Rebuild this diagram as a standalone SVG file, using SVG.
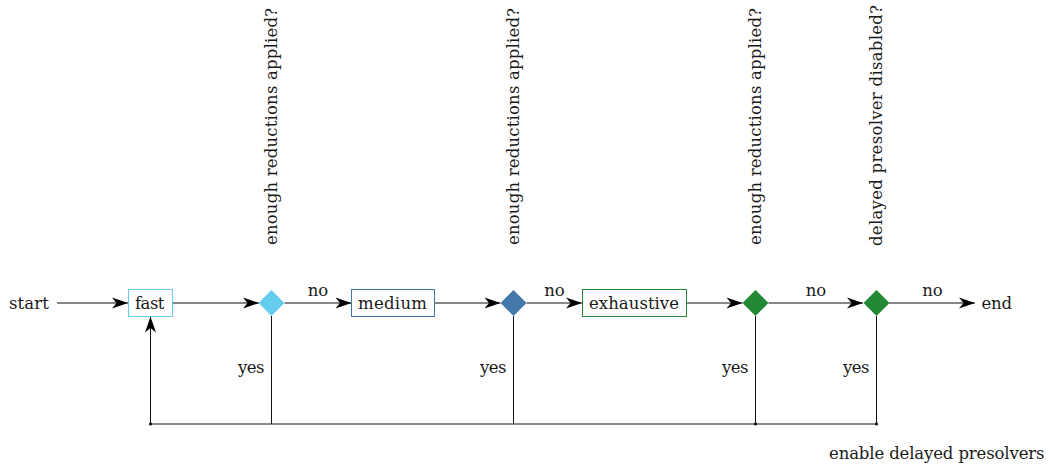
<svg xmlns="http://www.w3.org/2000/svg" width="1052" height="468" viewBox="0 0 1052 468">
<style>
text { font-family: "DejaVu Serif", "Liberation Serif", serif; font-size: 16.5px; fill: #1a1a1a; }
.box { fill: #ffffff; stroke-width: 1; }
.edge { fill: none; stroke: #111111; stroke-width: 1; }
.arr { marker-end: url(#stealth); }
.dot { fill: #000000; }
</style>
<defs>
<marker id="stealth" markerUnits="userSpaceOnUse" markerWidth="18" markerHeight="13" viewBox="-17 -6.5 18 13" refX="0" refY="0" orient="auto">
<path d="M0,0 L-16,-5.5 L-11.5,0 L-16,5.5 Z" fill="#000000"/>
</marker>
</defs>
<rect width="1052" height="468" fill="#ffffff"/>
<g id="connectors">
<path class="edge arr" d="M57,303 L128,303"/>
<path class="edge arr" d="M173,303 L259,303"/>
<path class="edge arr" d="M284.5,303 L351.5,303"/>
<path class="edge arr" d="M434.5,303 L500.5,303"/>
<path class="edge arr" d="M526.5,303 L582,303"/>
<path class="edge arr" d="M687,303 L742.5,303"/>
<path class="edge arr" d="M768.5,303 L863,303"/>
<path class="edge arr" d="M889,303 L975,303"/>
<path class="edge" d="M271.5,316 L271.5,424"/>
<path class="edge" d="M513.5,316 L513.5,424"/>
<path class="edge" d="M755.5,316 L755.5,424"/>
<path class="edge" d="M876.5,316 L876.5,424"/>
<path class="edge" d="M150.5,424 L876.5,424"/>
<path class="edge arr" d="M150.5,424 L150.5,316.5"/>
<rect class="dot" x="149.2" y="422.7" width="2.6" height="2.6"/>
<rect class="dot" x="754.2" y="422.7" width="2.6" height="2.6"/>
<rect class="dot" x="875.2" y="422.7" width="2.6" height="2.6"/>
<text x="318" y="296" text-anchor="middle" textLength="20.5">no</text>
<text x="554.5" y="296" text-anchor="middle" textLength="20.5">no</text>
<text x="816" y="296" text-anchor="middle" textLength="20.5">no</text>
<text x="932.5" y="296" text-anchor="middle" textLength="20.5">no</text>
<text x="264.5" y="373" text-anchor="end" textLength="26.5">yes</text>
<text x="506.5" y="373" text-anchor="end" textLength="26.5">yes</text>
<text x="748.5" y="373" text-anchor="end" textLength="26.5">yes</text>
<text x="869.5" y="373" text-anchor="end" textLength="26.5">yes</text>
</g>
<g id="start"><text x="9" y="309" textLength="40">start</text></g>
<g id="fast">
<rect class="box" x="128.5" y="289.5" width="44" height="27" stroke="#66CCEE"/>
<text x="135" y="309" textLength="29.5">fast</text>
</g>
<g id="check1">
<path d="M271.5,290 L284.5,303 L271.5,316 L258.5,303 Z" fill="#66CCEE"/>
<text transform="translate(277,245) rotate(-90)" textLength="237">enough reductions applied?</text>
</g>
<g id="medium">
<rect class="box" x="351.5" y="289.5" width="83" height="27" stroke="#4477AA"/>
<text x="358" y="309" textLength="69">medium</text>
</g>
<g id="check2">
<path d="M513.5,290 L526.5,303 L513.5,316 L500.5,303 Z" fill="#4477AA"/>
<text transform="translate(519,245) rotate(-90)" textLength="237">enough reductions applied?</text>
</g>
<g id="exhaustive">
<rect class="box" x="582.5" y="289.5" width="104" height="27" stroke="#228833"/>
<text x="589" y="309" textLength="90">exhaustive</text>
</g>
<g id="check3">
<path d="M755.5,290 L768.5,303 L755.5,316 L742.5,303 Z" fill="#228833"/>
<text transform="translate(761,245) rotate(-90)" textLength="237">enough reductions applied?</text>
</g>
<g id="check4">
<path d="M876.5,290 L889.5,303 L876.5,316 L863.5,303 Z" fill="#228833"/>
<text transform="translate(882,246) rotate(-90)" textLength="241">delayed presolver disabled?</text>
</g>
<g id="end"><text x="981.5" y="309" textLength="30.5">end</text></g>
<g id="enable"><text x="829" y="458.5" textLength="215.5">enable delayed presolvers</text></g>
</svg>
